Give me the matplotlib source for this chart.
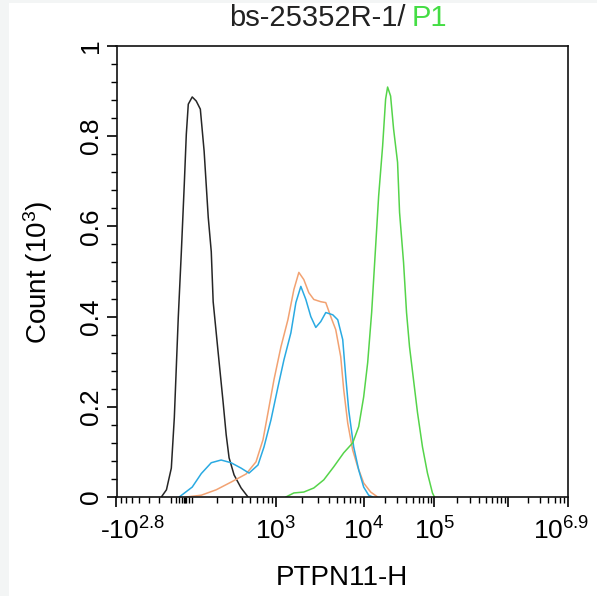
import numpy as np
import matplotlib
matplotlib.use('Agg')
import matplotlib.pyplot as plt
from matplotlib.patches import Rectangle
from matplotlib.transforms import ScaledTranslation

plt.rcParams['font.family'] = ['Liberation Sans', 'DejaVu Sans']
plt.rcParams['mathtext.default'] = 'regular'

# histogram traces: fluorescence (PTPN11-H) and count (10^3)
black_x = [-148, -122, -100, -73, -42, -20, 0, 15, 30, 62, 100, 116, 132, 151,
           166, 176, 204, 236, 258, 280, 322, 391, 472]
black_y = [0, 0.016, 0.064, 0.176, 0.398, 0.544, 0.693, 0.804, 0.871, 0.887,
           0.878, 0.860, 0.767, 0.620, 0.544, 0.433, 0.322, 0.211, 0.138,
           0.087, 0.049, 0.020, 0]

blue_x = [-35, 62, 120, 166, 223, 296, 391, 485, 618, 726, 875, 1054, 1233,
          1481, 1688, 1923, 2193, 2499, 2848, 3246, 3700, 4444, 5064, 5772,
          6245, 6752, 7697, 8774, 10000, 11760, 13390]
blue_y = [0, 0.022, 0.052, 0.076, 0.082, 0.076, 0.064, 0.053, 0.071, 0.111,
          0.171, 0.244, 0.304, 0.364, 0.431, 0.467, 0.438, 0.400, 0.376,
          0.389, 0.409, 0.404, 0.393, 0.349, 0.267, 0.193, 0.111, 0.060,
          0.022, 0.004, 0]

orange_x = [15, 120, 193, 296, 448, 586, 707, 808, 948, 1140, 1369, 1602,
            1825, 2080, 2371, 2703, 3246, 3700, 4217, 4806, 5478, 5925, 6579,
            7499, 8546, 10000, 12550, 15750]
orange_y = [0, 0.004, 0.016, 0.033, 0.051, 0.078, 0.127, 0.187, 0.260, 0.333,
            0.393, 0.460, 0.498, 0.482, 0.453, 0.438, 0.433, 0.431, 0.400,
            0.371, 0.311, 0.238, 0.164, 0.104, 0.067, 0.031, 0.011, 0]

green_x = [1299, 1602, 2080, 2703, 3511, 4562, 5925, 7499, 8774, 10000, 11390,
           12960, 14760, 16270, 18520, 20410, 21780, 24010, 26460, 30120,
           32140, 36600, 40330, 44450, 50610, 57630, 67760, 79680, 93710,
           100000]
green_y = [0, 0.009, 0.011, 0.020, 0.038, 0.067, 0.098, 0.120, 0.156, 0.222,
           0.298, 0.409, 0.556, 0.667, 0.778, 0.882, 0.909, 0.889, 0.816,
           0.742, 0.631, 0.520, 0.409, 0.333, 0.260, 0.187, 0.111, 0.053,
           0.009, 0]

x_major = [-631, 1e3, 1e4, 1e5, 1e6, 7.94e6]
x_major_labels = ['-$10^{2.8}$', '$10^3$', '$10^4$', '$10^5$', '', '$10^{6.9}$']
y_major = [0, 0.2, 0.4, 0.6, 0.8, 1.0]
y_major_labels = ['0', '0.2', '0.4', '0.6', '0.8', '1']

# biexponential-like display scale (anchor values -> relative position)
SCALE_X = np.array([-631, -100, 0, 100, 1e3, 1e4, 1e5, 1e6, 7.94e6])
SCALE_POS = np.array([115, 170, 183, 195, 275, 363, 434, 508, 568], float)
SCALE_U = np.arcsinh(SCALE_X / 100)


def _pw(v, xp, fp):
    v = np.asarray(v, float)
    out = np.interp(v, xp, fp)
    lo = fp[0] + (v - xp[0]) * (fp[1] - fp[0]) / (xp[1] - xp[0])
    hi = fp[-1] + (v - xp[-1]) * (fp[-1] - fp[-2]) / (xp[-1] - xp[-2])
    out = np.where(v < xp[0], lo, out)
    out = np.where(v > xp[-1], hi, out)
    return out


def fwd(x):
    return _pw(np.arcsinh(np.asarray(x, float) / 100), SCALE_U, SCALE_POS)


def inv(p):
    return 100 * np.sinh(_pw(p, SCALE_POS, SCALE_U))


fig = plt.figure(figsize=(5.97, 5.96), dpi=100)
fig.patch.set_facecolor('#f3f5f5')
fig.add_artist(Rectangle((9 / 597, 0), 1, 593 / 596, transform=fig.transFigure,
                         facecolor='white', edgecolor='none', zorder=-1))

ax = fig.add_axes([116.5 / 597, 1 - 497 / 596, (568 - 116.5) / 597, (497 - 46) / 596])
ax.set_xscale('function', functions=(fwd, inv))

ax.plot(black_x, black_y, color='#262626', lw=1.1)
ax.plot(orange_x, orange_y, color='#f2a272', lw=1.1)
ax.plot(blue_x, blue_y, color='#2aaae2', lw=1.1)
ax.plot(green_x, green_y, color='#55d44a', lw=1.1)

ax.set_xlim(-631, 7.94e6)
ax.set_ylim(0, 1)

x_minor = [-550, -470, -390, -310, -230, -160, -100, -60, -35, -15, -5, 5, 15, 35, 60]
for dec in [1e2, 1e3, 1e4, 1e5]:
    x_minor += [k * dec for k in range(2, 10)]
x_minor += [k * 1e6 for k in range(2, 8)]
ax.set_xticks(x_major)
ax.set_xticklabels(x_major_labels)
ax.set_xticks(x_minor, minor=True)
ax.set_yticks(y_major)
ax.set_yticklabels(y_major_labels)
ax.set_yticks(np.arange(0, 1.001, 0.04), minor=True)

ax.tick_params(axis='both', which='major', direction='out', length=7, width=1.2,
               labelsize=19, pad=3)
ax.tick_params(axis='x', which='major', pad=8)
ax.tick_params(axis='both', which='minor', direction='out', length=4, width=1.0)
ax.tick_params(axis='y', labelrotation=90)
for lab in ax.get_yticklabels():
    lab.set_va('center')

# nudge end labels like the original export
labs = ax.get_xticklabels()
labs[0].set_transform(labs[0].get_transform() + ScaledTranslation(0.16, 0, fig.dpi_scale_trans))
labs[-1].set_transform(labs[-1].get_transform() + ScaledTranslation(-0.07, 0, fig.dpi_scale_trans))

for s in ax.spines.values():
    s.set_linewidth(1.2)
    s.set_color('#111111')

fig.text(38 / 597, 1 - 272 / 596, 'Count (10$^3$)', rotation=90,
         ha='center', va='center', fontsize=20)
fig.text(342 / 597, 1 - 578 / 596, 'PTPN11-H', ha='center', va='center', fontsize=20)
fig.text(406 / 597, 1 - 18 / 596, 'bs-25352R-1/', ha='right', va='center',
         fontsize=21, color='#222222')
fig.text(412 / 597, 1 - 18 / 596, 'P1', ha='left', va='center',
         fontsize=21, color='#44dd44')

fig.savefig('out.png', dpi=100)
